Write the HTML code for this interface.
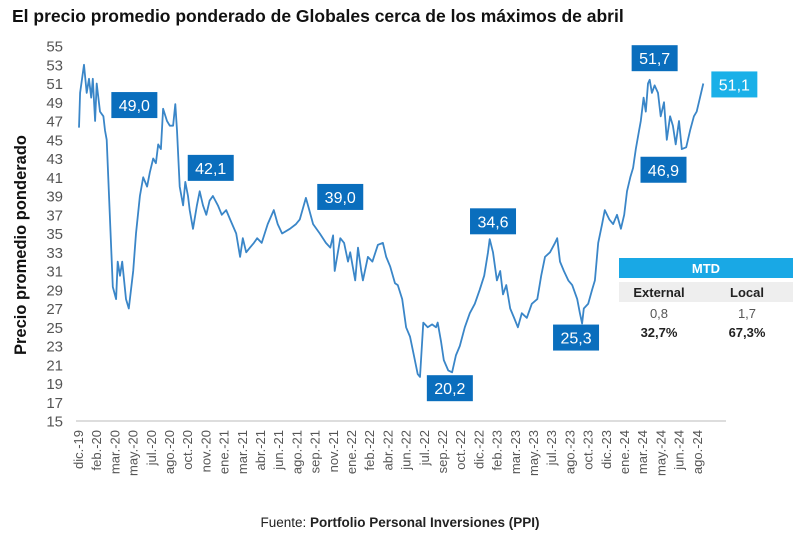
<!DOCTYPE html>
<html><head><meta charset="utf-8"><style>
body{margin:0;background:#fff;width:800px;height:539px;overflow:hidden;font-family:"Liberation Sans",sans-serif}
svg text{font-family:"Liberation Sans",sans-serif}
</style></head><body>
<svg id="chart" width="800" height="539">
<text x="12" y="22" font-size="17.5" font-weight="bold" fill="#111">El precio promedio ponderado de Globales cerca de los máximos de abril</text>
<text transform="translate(26,245) rotate(-90)" text-anchor="middle" font-size="16.5" font-weight="bold" fill="#111">Precio promedio ponderado</text>
<line x1="76" y1="421" x2="726" y2="421" stroke="#ddd" stroke-width="2"/>
<g id="yticks"></g><g id="xticks"></g>
<path id="series" fill="none" stroke="#3a86c8" stroke-width="1.8" stroke-linejoin="round"/>
<g id="callouts"></g>
<g>
<rect x="619" y="258" width="174" height="20" fill="#19a8e5"/>
<text x="706" y="273" text-anchor="middle" font-size="13" font-weight="bold" fill="#fff">MTD</text>
<rect x="619" y="282" width="174" height="20" fill="#eee"/>
<text x="659" y="297" text-anchor="middle" font-size="13" font-weight="bold" fill="#222">External</text>
<text x="747" y="297" text-anchor="middle" font-size="13" font-weight="bold" fill="#222">Local</text>
<text x="659" y="318" text-anchor="middle" font-size="13" fill="#555">0,8</text>
<text x="747" y="318" text-anchor="middle" font-size="13" fill="#555">1,7</text>
<text x="659" y="337" text-anchor="middle" font-size="13" font-weight="bold" fill="#222">32,7%</text>
<text x="747" y="337" text-anchor="middle" font-size="13" font-weight="bold" fill="#222">67,3%</text>
</g>
<text x="400" y="527" text-anchor="middle" font-size="13.5" fill="#222">Fuente: <tspan font-weight="bold">Portfolio Personal Inversiones (PPI)</tspan></text>
</svg>
<script>
const yTicks=[15,17,19,21,23,25,27,29,31,33,35,37,39,41,43,45,47,49,51,53,55];
const xLabels=["dic.-19","feb.-20","mar.-20","may.-20","jul.-20","ago.-20","oct.-20","nov.-20","ene.-21","mar.-21","abr.-21","jun.-21","ago.-21","sep.-21","nov.-21","ene.-22","feb.-22","abr.-22","jun.-22","jul.-22","sep.-22","oct.-22","dic.-22","feb.-23","mar.-23","may.-23","jul.-23","ago.-23","oct.-23","dic.-23","ene.-24","mar.-24","may.-24","jun.-24","ago.-24"];
const months=[0,0.1,0.45,0.7,0.9,1.1,1.25,1.45,1.6,1.9,2.2,2.35,2.5,3.05,3.35,3.5,3.7,3.9,4.25,4.5,4.9,5.15,5.5,5.8,6.15,6.4,6.7,6.95,7.15,7.4,7.6,7.95,8.2,8.5,8.7,8.85,9.1,9.4,9.6,9.85,10,10.3,10.65,10.9,11.2,11.5,11.8,12.1,12.55,12.9,13.3,13.65,14.2,14.55,14.8,15.1,15.45,15.8,16.1,16.5,17.05,17.6,17.95,18.35,19.05,19.6,19.95,20.5,20.8,21.15,21.75,22.3,22.7,22.95,23.1,23.6,23.95,24.3,24.5,24.95,25.2,25.5,25.65,26.1,26.5,27,27.45,27.75,28.1,28.55,28.8,29.2,29.55,29.9,30.25,30.6,30.8,31.1,31.5,31.9,32.25,32.4,32.7,32.95,33.35,33.7,34.05,34.4,34.85,35.3,35.75,36.2,36.6,36.95,37.1,37.4,37.75,38.05,38.3,38.6,38.95,39.3,39.65,40,40.45,40.9,41.4,41.75,42.1,42.55,43,43.2,43.45,43.8,44.2,44.55,45,45.25,45.45,45.6,46,46.35,46.6,46.9,47.25,47.5,47.9,48.25,48.6,48.95,49.25,49.5,49.8,50.05,50.3,50.6,50.75,51,51.2,51.4,51.55,51.75,52,52.3,52.55,52.85,53.1,53.4,53.65,53.9,54.2,54.45,54.85,55.2,55.55,55.8,56.1,56.4];
const values=[46.3,50,53,50,51.5,49.5,51.5,47,51,48,47.5,46,45,29.3,28,32,30.5,32,28,27,31,35,39,41,40,41.5,43,42.5,44.5,44,48.3,47,46.5,46.5,48.8,46,40,38,40.5,39,37.5,35.5,38,39.5,38,37,38.5,39,38,37,37.5,36.5,35,32.5,34.5,33,33.5,34,34.5,34,36,37.5,36,35,35.5,36,36.5,38.8,37.5,36,35,34,33.5,34.8,31,34.5,34,32,33,30,33.5,31,30,32.5,32,33.8,34,32.5,31.5,29.7,29.5,28,25,24,22,20,19.7,25.5,25,25.3,25,25.5,23.5,21.5,20.4,20.2,22,23,25,26.5,27.5,29,30.5,33,34.4,33,30,31,28.5,29.5,27,26,25,26.5,26,27.5,28,30.5,32.5,33,34,34.5,32,31,30,29.5,28,26.5,25.4,27,27.5,29,30,34,36,37.5,36.5,36,37,35.5,37,39.5,41,42,44,46,47,49.5,48,51,51.4,50,50.8,50,47.5,49,45,47.5,46.5,44.5,47,44,44.2,46,47.5,48,49.5,51];
const calloutText=["49,0","42,1","39,0","34,6","20,2","25,3","51,7","46,9","51,1"];
const calloutMonth=[5.0,11.9,23.6,37.4,33.5,44.9,52.0,52.8,59.2];
const calloutValue=[48.7,42.0,38.9,36.3,18.5,23.9,53.7,41.8,50.9];
const NS="http://www.w3.org/2000/svg";
const y=v=>421-(v-15)*9.375;
const x=m=>79+m*11.07;
const yg=document.getElementById('yticks');
yTicks.forEach(t=>{const e=document.createElementNS(NS,'text');


e.setAttribute('x',63);e.setAttribute('y',y(t)+5.5);e.setAttribute('text-anchor','end');e.setAttribute('font-size','15');e.setAttribute('fill','#555');e.textContent=t;yg.appendChild(e);});
const xg=document.getElementById('xticks');
xLabels.forEach((l,i)=>{const px=83+i*18.2;const e=document.createElementNS(NS,'text');


e.setAttribute('transform',`translate(${px},430) rotate(-90)`);e.setAttribute('text-anchor','end');e.setAttribute('font-size','13');e.setAttribute('fill','#555');e.textContent=l;xg.appendChild(e);});
document.getElementById('series').setAttribute('d',months.map((m,i)=>(i?'L':'M')+x(m).toFixed(1)+' '+y(values[i]).toFixed(1)).join(' '));
const cg=document.getElementById('callouts');
calloutText.forEach((t,i)=>{const g=document.createElementNS(NS,'g');


const cx=x(calloutMonth[i]),cy=y(calloutValue[i]);
const r=document.createElementNS(NS,'rect');r.setAttribute('x',cx-23);r.setAttribute('y',cy-13);r.setAttribute('width',46);r.setAttribute('height',26);r.setAttribute('fill',i===8?'#1ab0e8':'#0a6ebd');
const tx=document.createElementNS(NS,'text');tx.setAttribute('x',cx);tx.setAttribute('y',cy+6);tx.setAttribute('text-anchor','middle');tx.setAttribute('font-size','16');tx.setAttribute('fill','#fff');tx.textContent=t;
g.appendChild(r);g.appendChild(tx);cg.appendChild(g);});
</script>
</body></html>
